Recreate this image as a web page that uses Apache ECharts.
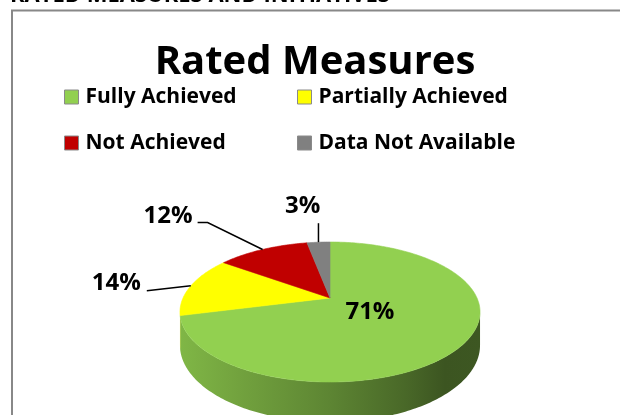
<!DOCTYPE html>
<html>
<head>
<meta charset="utf-8">
<script src="https://cdn.jsdelivr.net/npm/echarts@6/dist/echarts.min.js"></script>
<style>
html,body{margin:0;padding:0;background:#fff;}
#main{width:620px;height:415px;}
</style>
</head>
<body>
<div id="main"></div>
<script>
// ---- data ----
const categories = ['Fully Achieved', 'Partially Achieved', 'Not Achieved', 'Data Not Available'];
const values = [71, 14, 12, 3];
const valueLabels = ['71%', '14%', '12%', '3%'];
const sliceColors = ['#92d050', '#ffff00', '#c00000', '#808080'];
const chartTitle = 'Rated Measures';
const pageHeading = 'RATED MEASURES AND INITIATIVES';

// ---- layout (not data) ----
const FONT = '"Open Sans", sans-serif';
const CX = 330, CY = 298, RX = 147, RY = 67.2, K = 0.2, DEPTH = 32;
const SIL = Math.asin(K) * 180 / Math.PI;
// label leader layout per slice
const labelLayout = [
  { inside: 0.33 },
  { dx: -44, dy: 5, tail: 0, tx: -6, ty: -8 },
  { dx: -55, dy: -27, tail: 10, tx: -5, ty: -6 },
  { dx: 0, dy: -19, tail: 0, tx: 2, ty: -17 }
];

const total = values.reduce((a, b) => a + b, 0);

function proj(deg, r, d) {
  const t = deg * Math.PI / 180;
  const u = r * Math.cos(t), v = r * Math.sin(t);
  const s = 1 / (1 + K * v);
  return [CX + RX * u * s, CY - RY * v * s + (d || 0) * s];
}

function arcPts(from, to, r, d) {
  const pts = [];
  const n = Math.max(2, Math.ceil(Math.abs(to - from)));
  for (let i = 0; i <= n; i++) pts.push(proj(from + (to - from) * i / n, r, d));
  return pts;
}

function shade(hex, f) {
  const n = parseInt(hex.slice(1), 16);
  const r = Math.round(((n >> 16) & 255) * f), g = Math.round(((n >> 8) & 255) * f), b = Math.round((n & 255) * f);
  return 'rgb(' + r + ',' + g + ',' + b + ')';
}

function renderItem(params, api) {
  const i = params.dataIndex;
  let before = 0;
  for (let j = 0; j < i; j++) before += values[j];
  const val = api.value(0);
  const a1 = 90 - before / total * 360;
  const a2 = a1 - val / total * 360;
  const color = sliceColors[i];
  const children = [];

  // side walls (visible front part only)
  const visLo = -180 + SIL, visHi = -SIL;
  for (let n = -1; n <= 1; n++) {
    const lo = Math.max(a2, visLo + 360 * n);
    const hi = Math.min(a1, visHi + 360 * n);
    if (hi > lo) {
      const top = arcPts(lo, hi, 1, 0);
      const bot = arcPts(hi, lo, 1, DEPTH);
      children.push({
        type: 'polygon', z2: 1,
        shape: { points: top.concat(bot) },
        style: {
          fill: {
            type: 'linear', global: true,
            x: CX - RX * 1.03, y: 0, x2: CX + RX * 1.03, y2: 0,
            colorStops: [
              { offset: 0, color: shade(color, 0.88) },
              { offset: 0.2, color: shade(color, 0.78) },
              { offset: 0.5, color: shade(color, 0.64) },
              { offset: 0.75, color: shade(color, 0.5) },
              { offset: 0.88, color: shade(color, 0.41) },
              { offset: 1, color: shade(color, 0.42) }
            ]
          },
          stroke: null
        }
      });
    }
  }

  // top face
  const pts = [proj(0, 0, 0)].concat(arcPts(a1, a2, 1, 0));
  children.push({
    type: 'polygon', z2: 2,
    shape: { points: pts },
    style: { fill: color, stroke: color, lineWidth: 0.6 }
  });

  // label
  const mid = (a1 + a2) / 2;
  const L = labelLayout[i];
  if (L.inside) {
    const p = proj(mid, L.inside, 0);
    children.push({
      type: 'text', z2: 5,
      style: { text: valueLabels[i], x: p[0], y: p[1], align: 'center', verticalAlign: 'middle',
        font: 'bold 24px ' + FONT, fill: '#000' }
    });
  } else {
    const p0 = proj(mid, 1, 0);
    const p1 = [p0[0] + L.dx, p0[1] + L.dy];
    const p2 = [p1[0] - L.tail, p1[1]];
    children.push({
      type: 'polyline', z2: 4,
      shape: { points: [p0, p1, p2] },
      style: { stroke: '#000', lineWidth: 1.5, fill: null }
    });
    children.push({
      type: 'text', z2: 5,
      style: { text: valueLabels[i], x: p2[0] + L.tx, y: p2[1] + L.ty, align: 'right', verticalAlign: 'middle',
        font: 'bold 24px ' + FONT, fill: '#000' }
    });
  }
  return { type: 'group', children: children };
}

const chart = echarts.init(document.getElementById('main'), null, { renderer: 'canvas' });

const legendCommon = {
  orient: 'vertical',
  icon: 'rect',
  padding: 0,
  itemWidth: 14,
  itemHeight: 14,
  itemGap: 24,
  selectedMode: false,
  itemStyle: { borderColor: '#8a8a8a', borderWidth: 1 },
  textStyle: { fontFamily: FONT, fontWeight: 'bold', fontSize: 21, color: '#000', lineHeight: 22, padding: [0, 0, 0, 2] }
};

chart.setOption({
  backgroundColor: '#fff',
  animation: false,
  graphic: [
    { type: 'rect', shape: { x: 12, y: 10.5, width: 700, height: 500 }, style: { fill: null, stroke: '#888', lineWidth: 2 }, silent: true },
    { type: 'text', style: { text: pageHeading, x: 10, y: 7, verticalAlign: 'bottom', font: 'bold 22px ' + FONT, fill: '#000' } },
    { type: 'text', style: { text: chartTitle, x: 315, y: 63, align: 'center', verticalAlign: 'middle', font: 'bold 40px ' + FONT, fill: '#000' } }
  ],
  legend: [
    Object.assign({}, legendCommon, { left: 64, top: 86, data: [categories[0], categories[2]] }),
    Object.assign({}, legendCommon, { left: 297, top: 86, data: [categories[1], categories[3]] })
  ],
  series: [
    {
      type: 'pie',
      name: 'legendProxy',
      center: [-200, -200],
      radius: 1,
      silent: true,
      label: { show: false },
      labelLine: { show: false },
      data: categories.map((c, i) => ({ name: c, value: values[i], itemStyle: { color: sliceColors[i] } }))
    },
    {
      type: 'custom',
      coordinateSystem: 'none',
      renderItem: renderItem,
      data: values.map((v, i) => ({ name: categories[i], value: [v] }))
    }
  ]
});
</script>
</body>
</html>
